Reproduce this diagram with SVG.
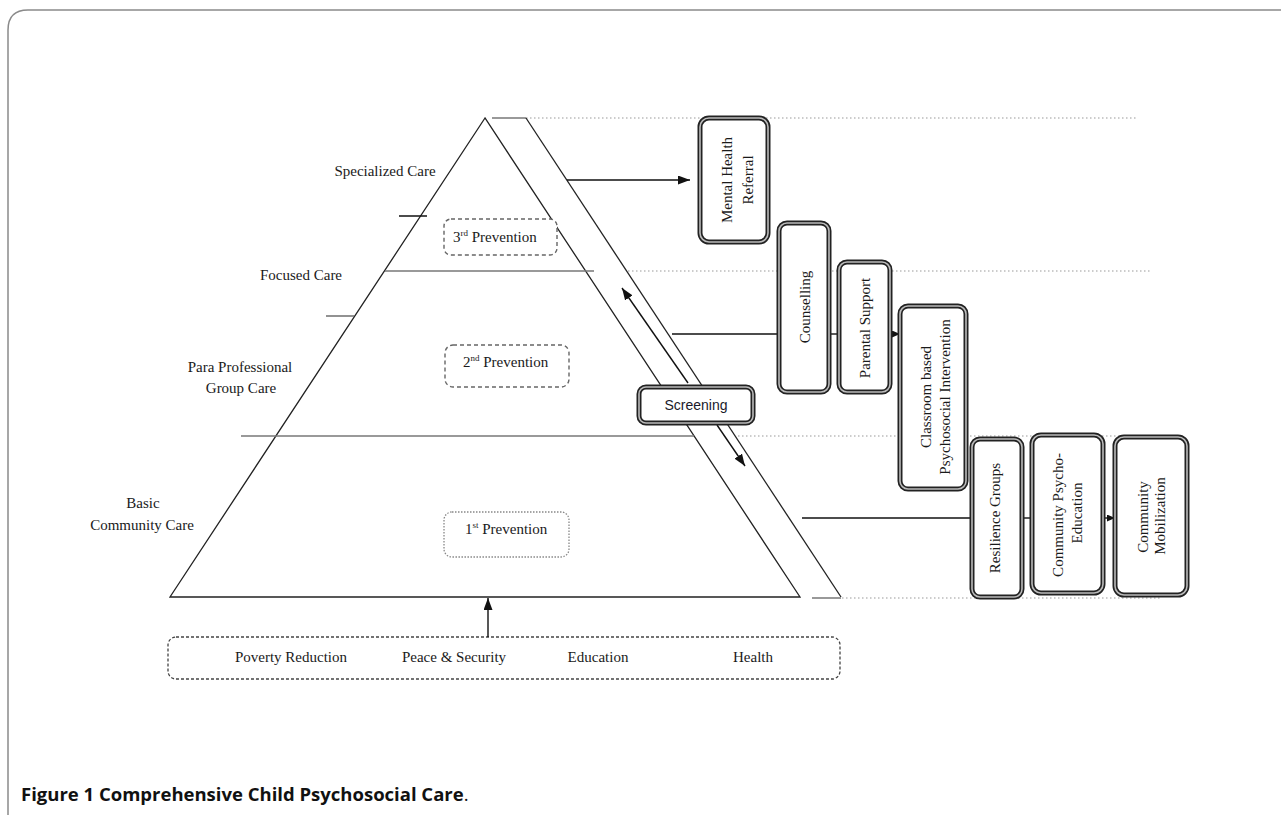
<svg xmlns="http://www.w3.org/2000/svg" width="1281" height="815" viewBox="0 0 1281 815">
<style>
.t{font-family:"Liberation Serif","Times New Roman",serif;font-size:15px;fill:#1a1a1a}
.ts{font-family:"Liberation Sans",Arial,sans-serif;font-size:14px;fill:#1a1a2a}
.cap{font-family:"Open Sans","Noto Sans",sans-serif;font-size:18.5px;fill:#111}
.py{fill:none;stroke:#222;stroke-width:1.3}
.dv{fill:none;stroke:#777;stroke-width:1.6}
.dot{fill:none;stroke:#999;stroke-width:1.2;stroke-dasharray:1.5 2.5}
.dash{fill:#fff;stroke:#666;stroke-width:1.4;stroke-dasharray:4 3}
.dotb{fill:#fff;stroke:#888;stroke-width:1.3;stroke-dasharray:1.5 1.5}
.o{fill:#fff;stroke:#222;stroke-width:5}
.i{fill:none;stroke:#bbb;stroke-width:1.6}
.c{fill:none;stroke:#111;stroke-width:1.4}
</style>
<defs>
<marker id="ar" markerUnits="userSpaceOnUse" markerWidth="12" markerHeight="9" refX="12" refY="4.5" orient="auto">
<path d="M0,0 L12,4.5 L0,9 z" fill="#111"/>
</marker>
<marker id="as" markerUnits="userSpaceOnUse" markerWidth="8" markerHeight="7" refX="8" refY="3.5" orient="auto">
<path d="M0,0 L8,3.5 L0,7 z" fill="#111"/>
</marker>
</defs>
<rect width="1281" height="815" fill="#fff"/>
<!-- frame -->
<path d="M8,815 L8,30 Q8,10 28,10 L1281,10" fill="none" stroke="#8a8a8a" stroke-width="1.5"/>

<!-- dotted guide lines -->
<g id="guides">
<line class="dot" x1="526" y1="118" x2="1137" y2="118"/>
<line class="dot" x1="628" y1="271" x2="1152" y2="271"/>
<line class="dot" x1="738" y1="436" x2="1120" y2="436"/>
<line class="dot" x1="842" y1="598" x2="1162" y2="598"/>
</g>

<!-- pyramid -->
<g id="pyramid">
<path class="py" d="M485,118 L170,597 L800,597 Z"/>
<line class="dv" x1="385" y1="271" x2="594" y2="271"/>
<line class="dv" x1="241" y1="436" x2="694" y2="436"/>
<line x1="399" y1="216" x2="427" y2="216" stroke="#111" stroke-width="1.5"/>
<line class="dv" x1="326" y1="316" x2="354" y2="316"/>
</g>

<!-- screening band -->
<g id="band">
<line x1="492" y1="118" x2="526" y2="118" stroke="#999" stroke-width="2"/>
<line class="py" x1="526" y1="118" x2="841" y2="597"/>
<line x1="812" y1="598" x2="841" y2="598" stroke="#999" stroke-width="2"/>
</g>

<!-- left labels -->
<g id="labels">
<text class="t" x="385" y="176" text-anchor="middle">Specialized Care</text>
<text class="t" x="301" y="280" text-anchor="middle">Focused Care</text>
<text class="t" x="240" y="372" text-anchor="middle">Para Professional</text>
<text class="t" x="241" y="393" text-anchor="middle">Group Care</text>
<text class="t" x="143" y="508" text-anchor="middle">Basic</text>
<text class="t" x="142" y="530" text-anchor="middle">Community Care</text>
</g>

<!-- prevention boxes -->
<g id="prev3">
<rect class="dash" x="444" y="219" width="113" height="36" rx="7"/>
<text class="t" x="453" y="242">3<tspan font-size="9" dy="-6">rd</tspan><tspan dy="6"> Prevention</tspan></text>
</g>
<g id="prev2">
<rect class="dash" x="445" y="345" width="124" height="42" rx="8"/>
<text class="t" x="463" y="367">2<tspan font-size="9" dy="-6">nd</tspan><tspan dy="6"> Prevention</tspan></text>
</g>
<g id="prev1">
<rect class="dotb" x="444" y="512" width="125" height="45" rx="8"/>
<text class="t" x="465" y="534">1<tspan font-size="9" dy="-6">st</tspan><tspan dy="6"> Prevention</tspan></text>
</g>

<!-- bottom bar -->
<g id="foundations">
<rect x="168" y="637" width="672" height="42" rx="8" fill="#fff" stroke="#444" stroke-width="1.3" stroke-dasharray="3 2"/>
<text class="t" x="291" y="662" text-anchor="middle">Poverty Reduction</text>
<text class="t" x="454" y="662" text-anchor="middle">Peace &amp; Security</text>
<text class="t" x="598" y="662" text-anchor="middle">Education</text>
<text class="t" x="753" y="662" text-anchor="middle">Health</text>
</g>

<!-- connectors -->
<g id="connectors">
<line class="c" x1="567" y1="180" x2="690" y2="180" marker-end="url(#ar)"/>
<line class="c" x1="672" y1="334" x2="779" y2="334"/>
<line class="c" x1="829" y1="334" x2="839" y2="334"/>
<line class="c" x1="890" y1="334" x2="900" y2="334" marker-end="url(#as)"/>
<line class="c" x1="688" y1="383" x2="622" y2="288" marker-end="url(#ar)"/>
<line class="c" x1="717" y1="425" x2="745" y2="466" marker-end="url(#ar)"/>
<line class="c" x1="488" y1="637" x2="488" y2="598" marker-end="url(#ar)"/>
<line class="c" x1="802" y1="518" x2="972" y2="518"/>
<line class="c" x1="1022" y1="518" x2="1032" y2="518"/>
<line class="c" x1="1103" y1="518" x2="1115" y2="518" marker-end="url(#as)"/>
</g>

<!-- screening -->
<g id="screening">
<rect class="o" x="639" y="387" width="114" height="36" rx="7"/>
<rect class="i" x="639" y="387" width="114" height="36" rx="7"/>
<text class="ts" x="696" y="410" text-anchor="middle">Screening</text>
</g>

<!-- right boxes -->
<g id="mental-health">
<rect class="o" x="700" y="118" width="68" height="124" rx="9"/>
<rect class="i" x="700" y="118" width="68" height="124" rx="9"/>
<text class="t" transform="translate(732,180) rotate(-90)" text-anchor="middle">Mental Health</text>
<text class="t" transform="translate(753,180) rotate(-90)" text-anchor="middle">Referral</text>
</g>
<g id="counselling">
<rect class="o" x="779" y="223" width="50" height="169" rx="8"/>
<rect class="i" x="779" y="223" width="50" height="169" rx="8"/>
<text class="t" transform="translate(810,307) rotate(-90)" text-anchor="middle">Counselling</text>
</g>
<g id="parental">
<rect class="o" x="839" y="262" width="51" height="130" rx="8"/>
<rect class="i" x="839" y="262" width="51" height="130" rx="8"/>
<text class="t" transform="translate(870,328) rotate(-90)" text-anchor="middle">Parental Support</text>
</g>
<g id="classroom">
<rect class="o" x="900" y="306" width="66" height="183" rx="8"/>
<rect class="i" x="900" y="306" width="66" height="183" rx="8"/>
<text class="t" transform="translate(931,397) rotate(-90)" text-anchor="middle">Classroom based</text>
<text class="t" transform="translate(950,397) rotate(-90)" text-anchor="middle">Psychosocial Intervention</text>
</g>
<g id="resilience">
<rect class="o" x="972" y="439" width="50" height="158" rx="8"/>
<rect class="i" x="972" y="439" width="50" height="158" rx="8"/>
<text class="t" transform="translate(1000,518) rotate(-90)" text-anchor="middle">Resilience Groups</text>
</g>
<g id="psycho-education">
<rect class="o" x="1032" y="435" width="71" height="158" rx="9"/>
<rect class="i" x="1032" y="435" width="71" height="158" rx="9"/>
<text class="t" transform="translate(1063,515) rotate(-90)" text-anchor="middle">Community Psycho-</text>
<text class="t" transform="translate(1082,513) rotate(-90)" text-anchor="middle">Education</text>
</g>
<g id="mobilization">
<rect class="o" x="1115" y="437" width="72" height="158" rx="9"/>
<rect class="i" x="1115" y="437" width="72" height="158" rx="9"/>
<text class="t" transform="translate(1148,517) rotate(-90)" text-anchor="middle">Community</text>
<text class="t" transform="translate(1165,516) rotate(-90)" text-anchor="middle">Mobilization</text>
</g>

<!-- caption -->
<text class="cap" x="21" y="801"><tspan font-weight="bold">Figure 1 Comprehensive Child Psychosocial Care</tspan>.</text>
</svg>
